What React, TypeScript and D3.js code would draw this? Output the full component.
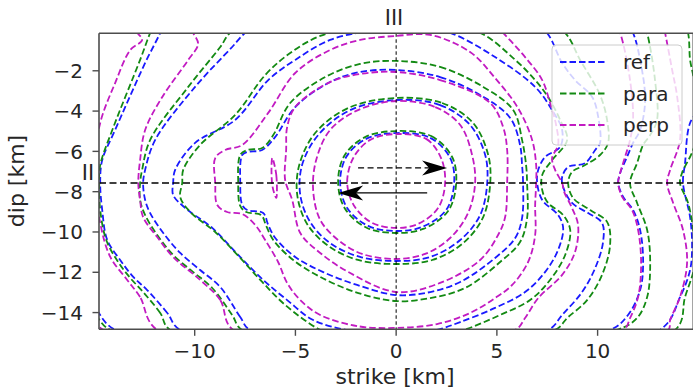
import React from 'react';
import * as d3 from 'd3';

type P = [number, number];

const W = 693, H = 390;
const PLOT = { left: 99, top: 33.3, right: 693.3, bottom: 329.3 };

const xDomain: P = [-14.75, 14.75];
const yDomain: P = [-0.14, -14.83];
const xTicks = [-10, -5, 0, 5, 10];
const yTicks = [-2, -4, -6, -8, -10, -12, -14];
const hypocenter: P = [0, -7.57];
const seriesNames = ['ref', 'para', 'perp'];
const seriesColors = ['#1a1aff', '#138a13', '#c21bc2'];
const markerLabels = ['III', 'II'];

const refContours: P[][] = [
  [[0,-5.09],[1.69,-5.33],[2.68,-6.32],[2.88,-7.57],[2.48,-8.91],[1.29,-9.75],[0,-9.95],[-1.39,-9.70],[-2.43,-8.81],[-2.78,-7.57],[-2.48,-6.28],[-1.49,-5.38]],
  [[0,-3.45],[2.18,-3.70],[3.67,-4.69],[4.42,-6.18],[4.52,-7.57],[4.17,-9.16],[3.18,-10.40],[1.69,-11.24],[0,-11.44],[-1.79,-11.24],[-3.28,-10.55],[-4.27,-9.50],[-4.76,-8.16],[-4.67,-6.68],[-3.87,-5.19],[-2.28,-3.95]],
  [[0,-1.96],[2.18,-2.31],[4.17,-3.20],[5.66,-4.34],[6.15,-5.68],[6.25,-6.68],[6.30,-7.57],[6.25,-9.31],[5.91,-10.30],[4.91,-11.29],[3.18,-12.48],[1.69,-12.98],[0,-13.13],[-1.94,-12.63],[-3.62,-11.99],[-5.01,-11.24],[-6.00,-10.30],[-6.35,-9.65],[-6.60,-9.06],[-7.39,-8.91],[-7.64,-8.66],[-7.74,-7.57],[-7.64,-6.18],[-7.39,-6.03],[-6.65,-5.93],[-6.00,-5.28],[-5.01,-3.80],[-3.28,-2.56],[-1.79,-2.06]],
  [[0,-15.26],[-2.28,-14.91],[-4.12,-14.37],[-5.41,-13.38],[-6.60,-12.38],[-7.84,-11.14],[-9.13,-9.80],[-10.47,-8.81],[-11.07,-8.16],[-11.07,-7.57],[-10.97,-6.92],[-9.98,-5.58],[-7.99,-4.44],[-6.35,-2.46],[-5.01,-1.46],[-3.28,-0.47],[-1.29,-0.02],[0,0.07],[1.69,0.02],[2.68,-0.12],[4.91,-1.32],[6.90,-2.80],[7.74,-3.95],[8.24,-4.94],[8.14,-5.78],[7.39,-6.28],[7.05,-6.93],[7.00,-7.57],[7.25,-8.41],[8.04,-9.16],[8.29,-9.80],[8.04,-10.89],[7.39,-11.99],[6.40,-12.98],[4.91,-13.77],[3.18,-14.47],[2.03,-14.86]],
  [[-7.25,-14.86],[-7.74,-14.22],[-8.73,-12.73],[-9.73,-11.89],[-10.72,-11.04],[-11.56,-10.05],[-12.21,-9.06],[-12.46,-8.41],[-12.56,-7.57],[-12.46,-6.92],[-11.96,-5.43],[-9.98,-2.80],[-8.14,-0.82],[-7.49,-0.12],[-5.76,1.02],[0,1.51],[6.15,1.02],[7.49,-0.12],[8.24,-1.61],[8.88,-2.46],[9.73,-3.30],[10.03,-4.29],[10.12,-5.58],[9.88,-5.93],[9.38,-6.58],[8.54,-6.77],[8.24,-7.27],[8.29,-7.77],[8.73,-8.56],[9.53,-9.06],[10.22,-9.55],[10.27,-10.50],[9.88,-11.79],[9.23,-12.98],[8.24,-14.12],[7.54,-14.86],[0.20,-15.61]],
  [[-10.72,-14.86],[-11.36,-14.02],[-12.36,-12.88],[-13.05,-12.23],[-13.70,-11.39],[-14.34,-10.40],[-14.59,-8.91],[-14.69,-7.57],[-14.59,-6.43],[-13.95,-4.94],[-12.46,-1.61],[-11.71,-0.12],[-11.22,1.02],[0,3.0],[11.12,1.02],[11.76,-0.12],[12.11,-1.46],[12.36,-3.45],[12.11,-4.94],[11.76,-5.58],[11.46,-6.28],[11.12,-7.07],[11.02,-7.57],[11.27,-8.26],[11.76,-8.91],[12.11,-9.90],[12.26,-11.54],[12.11,-12.88],[11.51,-14.12],[10.62,-14.86],[0.20,-16.35]],
  [[-13.95,-14.86],[-14.94,-13.77],[-15.68,-12.88],[-16.67,-8.41],[-15.68,1.51],[0,4.49],[15.09,1.51],[15.34,-3.45],[14.59,-4.59],[14.34,-6.58],[14.24,-7.57],[14.59,-9.26],[14.69,-10.65],[14.59,-11.89],[14.09,-13.23],[13.10,-14.86],[0.20,-17.35]],
];

const paraContours: P[][] = [
  [[0,-4.99],[1.74,-5.24],[2.78,-6.28],[2.98,-7.57],[2.58,-8.96],[1.34,-9.85],[0,-10.05],[-1.44,-9.80],[-2.53,-8.86],[-2.88,-7.57],[-2.58,-6.23],[-1.54,-5.29]],
  [[0,-3.35],[2.28,-3.60],[3.82,-4.59],[4.57,-6.18],[4.67,-7.57],[4.32,-9.26],[3.33,-10.55],[1.79,-11.39],[0,-11.59],[-1.89,-11.39],[-3.37,-10.69],[-4.42,-9.60],[-4.91,-8.16],[-4.81,-6.68],[-4.02,-5.09],[-2.38,-3.85]],
  [[0,-1.51],[2.18,-1.81],[4.32,-2.80],[5.81,-3.95],[6.25,-5.43],[6.45,-6.68],[6.50,-7.57],[6.50,-9.31],[6.15,-10.50],[5.16,-11.49],[3.42,-12.78],[1.69,-13.28],[0,-13.43],[-2.03,-12.98],[-3.77,-12.23],[-5.11,-11.39],[-6.10,-10.40],[-6.45,-9.70],[-6.70,-9.16],[-7.44,-9.01],[-7.74,-8.71],[-7.84,-7.57],[-7.74,-6.18],[-7.39,-5.93],[-6.65,-5.83],[-6.10,-5.19],[-5.26,-3.60],[-3.52,-2.31],[-1.79,-1.66]],
  [[0,-15.61],[-2.78,-15.26],[-3.87,-14.81],[-5.51,-13.62],[-6.65,-12.48],[-7.74,-11.29],[-8.98,-10.00],[-10.22,-9.01],[-10.72,-8.26],[-10.62,-7.57],[-10.57,-6.92],[-9.73,-5.68],[-7.99,-4.19],[-6.50,-2.21],[-5.26,-1.12],[-3.77,-0.27],[-1.79,0.17],[0,0.27],[2.18,0.22],[4.17,-0.12],[5.91,-1.46],[6.90,-2.46],[7.54,-3.30],[8.14,-4.44],[8.49,-5.43],[7.74,-6.43],[7.25,-7.17],[7.25,-7.92],[7.54,-8.56],[8.29,-9.16],[8.64,-9.90],[8.39,-11.14],[7.64,-12.38],[6.65,-13.38],[5.16,-14.12],[3.52,-14.81],[1.69,-15.36]],
  [[-7.64,-14.86],[-8.14,-14.12],[-9.13,-12.78],[-10.07,-11.99],[-11.07,-11.14],[-11.86,-10.15],[-12.46,-9.16],[-12.71,-8.41],[-12.71,-7.57],[-12.61,-6.92],[-12.21,-5.43],[-10.32,-2.80],[-8.73,-0.82],[-8.24,-0.12],[-6.25,1.02],[0,1.61],[6.65,1.02],[8.39,-0.12],[9.13,-1.46],[10.12,-3.20],[10.47,-4.44],[10.52,-5.58],[10.12,-6.18],[9.38,-6.68],[8.73,-7.02],[8.54,-7.57],[8.78,-8.31],[9.63,-8.91],[10.47,-9.50],[10.62,-10.65],[10.22,-12.13],[9.48,-13.38],[8.49,-14.27],[7.89,-14.86],[0.20,-15.86]],
  [[-11.22,-14.86],[-11.71,-14.02],[-12.56,-12.98],[-13.20,-12.28],[-13.80,-11.49],[-14.39,-10.40],[-14.69,-8.91],[-14.74,-7.57],[-14.69,-6.68],[-14.09,-4.94],[-12.71,-1.46],[-12.21,-0.12],[-11.71,1.02],[0,3.25],[12.11,1.02],[12.46,-0.12],[12.85,-2.46],[12.95,-4.44],[12.61,-5.19],[12.26,-5.68],[11.96,-6.58],[11.61,-7.57],[11.96,-8.56],[12.46,-9.90],[12.61,-11.54],[12.46,-13.23],[11.96,-14.27],[10.97,-14.86],[0.20,-16.60]],
  [[-14.19,-14.86],[-14.89,-14.17],[-15.93,-13.13],[-16.92,-8.41],[-15.93,1.51],[0,4.74],[14.09,1.02],[14.49,-0.12],[14.59,-1.46],[14.74,-2.21],[15.09,-4.44],[14.74,-5.93],[14.19,-7.07],[14.09,-7.57],[14.49,-8.56],[14.74,-9.90],[14.84,-11.54],[14.34,-13.23],[13.85,-14.86],[0.20,-17.59]],
];

const perpContours: P[][] = [
  [[0,-5.14],[1.49,-5.38],[2.23,-6.33],[2.43,-7.57],[2.08,-8.81],[1.09,-9.60],[0,-9.80],[-1.19,-9.55],[-2.08,-8.71],[-2.43,-7.57],[-2.13,-6.33],[-1.29,-5.43]],
  [[0,-3.50],[1.94,-3.80],[3.18,-4.69],[3.77,-6.18],[3.92,-7.57],[3.57,-9.06],[2.68,-10.30],[1.44,-11.09],[0,-11.34],[-1.69,-11.09],[-2.88,-10.40],[-3.77,-9.40],[-4.12,-7.92],[-3.97,-6.43],[-3.28,-4.94],[-1.89,-3.95]],
  [[0,-2.06],[2.18,-2.46],[4.67,-3.60],[5.31,-4.79],[5.51,-5.93],[5.51,-7.57],[5.41,-9.26],[5.06,-10.15],[4.17,-11.39],[2.18,-12.53],[0,-12.98],[-2.28,-12.04],[-3.77,-11.04],[-4.76,-10.05],[-5.16,-8.41],[-5.51,-7.42],[-5.46,-5.93],[-5.41,-4.79],[-5.01,-3.80],[-3.28,-2.56],[-1.79,-2.16]],
  [[-6.15,-6.33],[-5.95,-7.17],[-5.95,-8.31],[-6.15,-7.67]],
  [[0,-14.76],[-1.94,-14.67],[-3.77,-14.12],[-4.76,-13.38],[-5.41,-12.53],[-5.86,-11.49],[-6.50,-10.40],[-7.00,-9.65],[-7.64,-9.11],[-8.39,-9.01],[-8.88,-8.66],[-8.98,-7.57],[-8.98,-6.33],[-8.49,-5.93],[-7.64,-5.68],[-6.35,-4.09],[-5.01,-2.11],[-3.28,-0.97],[-1.79,-0.47],[0,-0.27],[1.69,-0.22],[3.67,-1.07],[4.91,-2.36],[6.05,-3.85],[6.75,-5.43],[6.95,-6.68],[6.95,-7.57],[6.90,-8.66],[6.90,-10.15],[6.55,-11.49],[5.76,-12.63],[4.91,-13.28],[3.67,-14.02],[2.03,-14.57]],
  [[-8.09,-14.86],[-8.73,-13.38],[-9.73,-12.38],[-11.07,-11.24],[-11.86,-10.25],[-12.56,-9.26],[-12.71,-8.41],[-12.80,-7.57],[-12.71,-6.43],[-12.46,-4.94],[-11.61,-3.30],[-10.32,-1.46],[-9.83,-0.67],[-10.12,-0.02],[-10.22,0.52],[-4.76,1.51],[0,1.76],[4.17,1.02],[5.31,-0.12],[6.40,-1.32],[7.25,-2.46],[7.64,-3.60],[7.94,-4.69],[8.04,-5.68],[7.74,-6.33],[7.89,-6.92],[8.24,-7.57],[8.34,-8.01],[8.73,-8.81],[9.03,-9.65],[8.88,-10.99],[8.24,-12.13],[7.05,-13.28],[6.40,-14.27],[5.91,-14.86],[0.20,-15.61]],
  [[-11.86,-14.86],[-12.71,-13.23],[-13.35,-12.38],[-14.19,-11.24],[-14.69,-9.55],[-14.99,-6.92],[-14.69,-4.59],[-13.95,-2.61],[-13.20,-0.97],[-12.61,-0.47],[-12.95,0.02],[-13.20,1.02],[0,3.0],[10.62,1.02],[11.12,-0.12],[11.61,-2.46],[11.76,-4.44],[11.61,-5.43],[11.36,-6.28],[11.12,-7.07],[11.02,-7.57],[11.22,-8.26],[11.71,-8.91],[12.01,-9.90],[12.16,-11.54],[12.01,-13.23],[11.61,-14.27],[11.27,-14.86],[0.20,-16.35]],
  [[-14.54,-14.86],[-14.89,-14.47],[-16.18,-13.38],[-17.17,-8.41],[-16.18,1.51],[0,4.49],[13.10,1.02],[13.35,-0.12],[13.70,-1.96],[13.95,-3.30],[14.09,-5.43],[13.60,-6.92],[13.45,-7.57],[13.75,-8.56],[14.24,-9.90],[14.44,-11.54],[14.09,-13.23],[13.60,-14.37],[13.50,-14.86],[0.20,-17.35]],
];

const allSeries = [refContours, paraContours, perpContours];

const arrowDashed: P[] = [[-1.89, -6.82], [2.53, -6.82]];
const arrowSolid: P[] = [[1.54, -8.06], [-2.88, -8.06]];

const FONT = 'DejaVu Sans, sans-serif';

export default function App() {
  const x = d3.scaleLinear().domain(xDomain).range([PLOT.left, PLOT.right]);
  const y = d3.scaleLinear().domain(yDomain).range([PLOT.top, PLOT.bottom]);
  const line = d3.line<P>().x(d => x(d[0])).y(d => y(d[1])).curve(d3.curveCatmullRomClosed.alpha(0.5));

  const arrowHead = (a: P[]) => {
    const tx = x(a[1][0]), ty = y(a[1][1]);
    const dir = Math.sign(x(a[1][0]) - x(a[0][0]));
    const L = 25, w = 7.5;
    return `M${tx},${ty} L${tx - dir * L},${ty - w} L${tx - dir * L * 0.72},${ty} L${tx - dir * L},${ty + w} Z`;
  };

  const pw = PLOT.right - PLOT.left, ph = PLOT.bottom - PLOT.top;
  const legendX = 552, legendY = 45;

  return (
    <svg width={W} height={H} style={{ position: 'absolute', left: 0, top: 0, background: '#fff' }} fontFamily={FONT}>
      <defs>
        <clipPath id="plotclip">
          <rect x={PLOT.left} y={PLOT.top} width={pw} height={ph} />
        </clipPath>
      </defs>
      <g clipPath="url(#plotclip)">
        {allSeries.map((contours, si) => (
          <g key={si}>
            {contours.map((c, ci) => (
              <path key={ci} d={line(c) || ''} fill="none" stroke={seriesColors[si]} strokeWidth={1.8} strokeDasharray="6.5,3" />
            ))}
          </g>
        ))}
        <line x1={x(hypocenter[0])} x2={x(hypocenter[0])} y1={PLOT.top} y2={PLOT.bottom} stroke="#000" strokeWidth={1} strokeDasharray="3.5,2.5" />
        <line x1={PLOT.left} x2={PLOT.right} y1={y(hypocenter[1])} y2={y(hypocenter[1])} stroke="#000" strokeWidth={1.5} strokeDasharray="7,3.5" />
        <line x1={x(arrowDashed[0][0])} x2={x(arrowDashed[1][0]) - 18} y1={y(arrowDashed[0][1])} y2={y(arrowDashed[1][1])} stroke="#000" strokeWidth={1.4} strokeDasharray="6,3.5" />
        <path d={arrowHead(arrowDashed)} fill="#000" />
        <line x1={x(arrowSolid[0][0])} x2={x(arrowSolid[1][0]) + 18} y1={y(arrowSolid[0][1])} y2={y(arrowSolid[1][1])} stroke="#000" strokeWidth={1.4} />
        <path d={arrowHead(arrowSolid)} fill="#000" />
      </g>
      <g stroke="#4d4d4d" strokeWidth={1.6} fill="none">
        <line x1={PLOT.left} x2={PLOT.left} y1={PLOT.top} y2={PLOT.bottom} />
        <line x1={PLOT.left} x2={PLOT.right} y1={PLOT.bottom} y2={PLOT.bottom} />
        <line x1={PLOT.left} x2={PLOT.right} y1={PLOT.top} y2={PLOT.top} />
        <line x1={PLOT.right} x2={PLOT.right} y1={PLOT.top} y2={PLOT.bottom} />
      </g>
      {xTicks.map(t => (
        <g key={'x' + t}>
          <line x1={x(t)} x2={x(t)} y1={PLOT.bottom} y2={PLOT.bottom + 6.5} stroke="#4d4d4d" strokeWidth={1.4} />
          <text x={x(t)} y={358} textAnchor="middle" fontSize={20} fill="#262626">{t < 0 ? '\u2212' + Math.abs(t) : String(t)}</text>
        </g>
      ))}
      {yTicks.map(t => (
        <g key={'y' + t}>
          <line x1={PLOT.left - 6.5} x2={PLOT.left} y1={y(t)} y2={y(t)} stroke="#4d4d4d" strokeWidth={1.4} />
          <text x={83} y={y(t) + 7.2} textAnchor="end" fontSize={20} fill="#262626">{t < 0 ? '\u2212' + Math.abs(t) : String(t)}</text>
        </g>
      ))}
      <text x={395} y={384} textAnchor="middle" fontSize={22} fill="#262626">strike [km]</text>
      <text transform="translate(24,181) rotate(-90)" textAnchor="middle" fontSize={22} fill="#262626">dip [km]</text>
      <text x={394} y={25} textAnchor="middle" fontSize={21} fill="#262626">{markerLabels[0]}</text>
      <text x={88} y={180} textAnchor="middle" fontSize={21} fill="#262626">{markerLabels[1]}</text>
      <g>
        <rect x={legendX} y={legendY} width={130} height={100} rx={4} fill="#fff" fillOpacity={0.8} stroke="#cccccc" strokeWidth={1} />
        {seriesNames.map((n, i) => (
          <g key={n}>
            <line x1={legendX + 8} x2={legendX + 53} y1={62 + i * 31.5} y2={62 + i * 31.5} stroke={seriesColors[i]} strokeWidth={1.8} strokeDasharray="6.5,3" />
            <text x={legendX + 71} y={69 + i * 31.5} fontSize={20} fill="#262626">{n}</text>
          </g>
        ))}
      </g>
    </svg>
  );
}
